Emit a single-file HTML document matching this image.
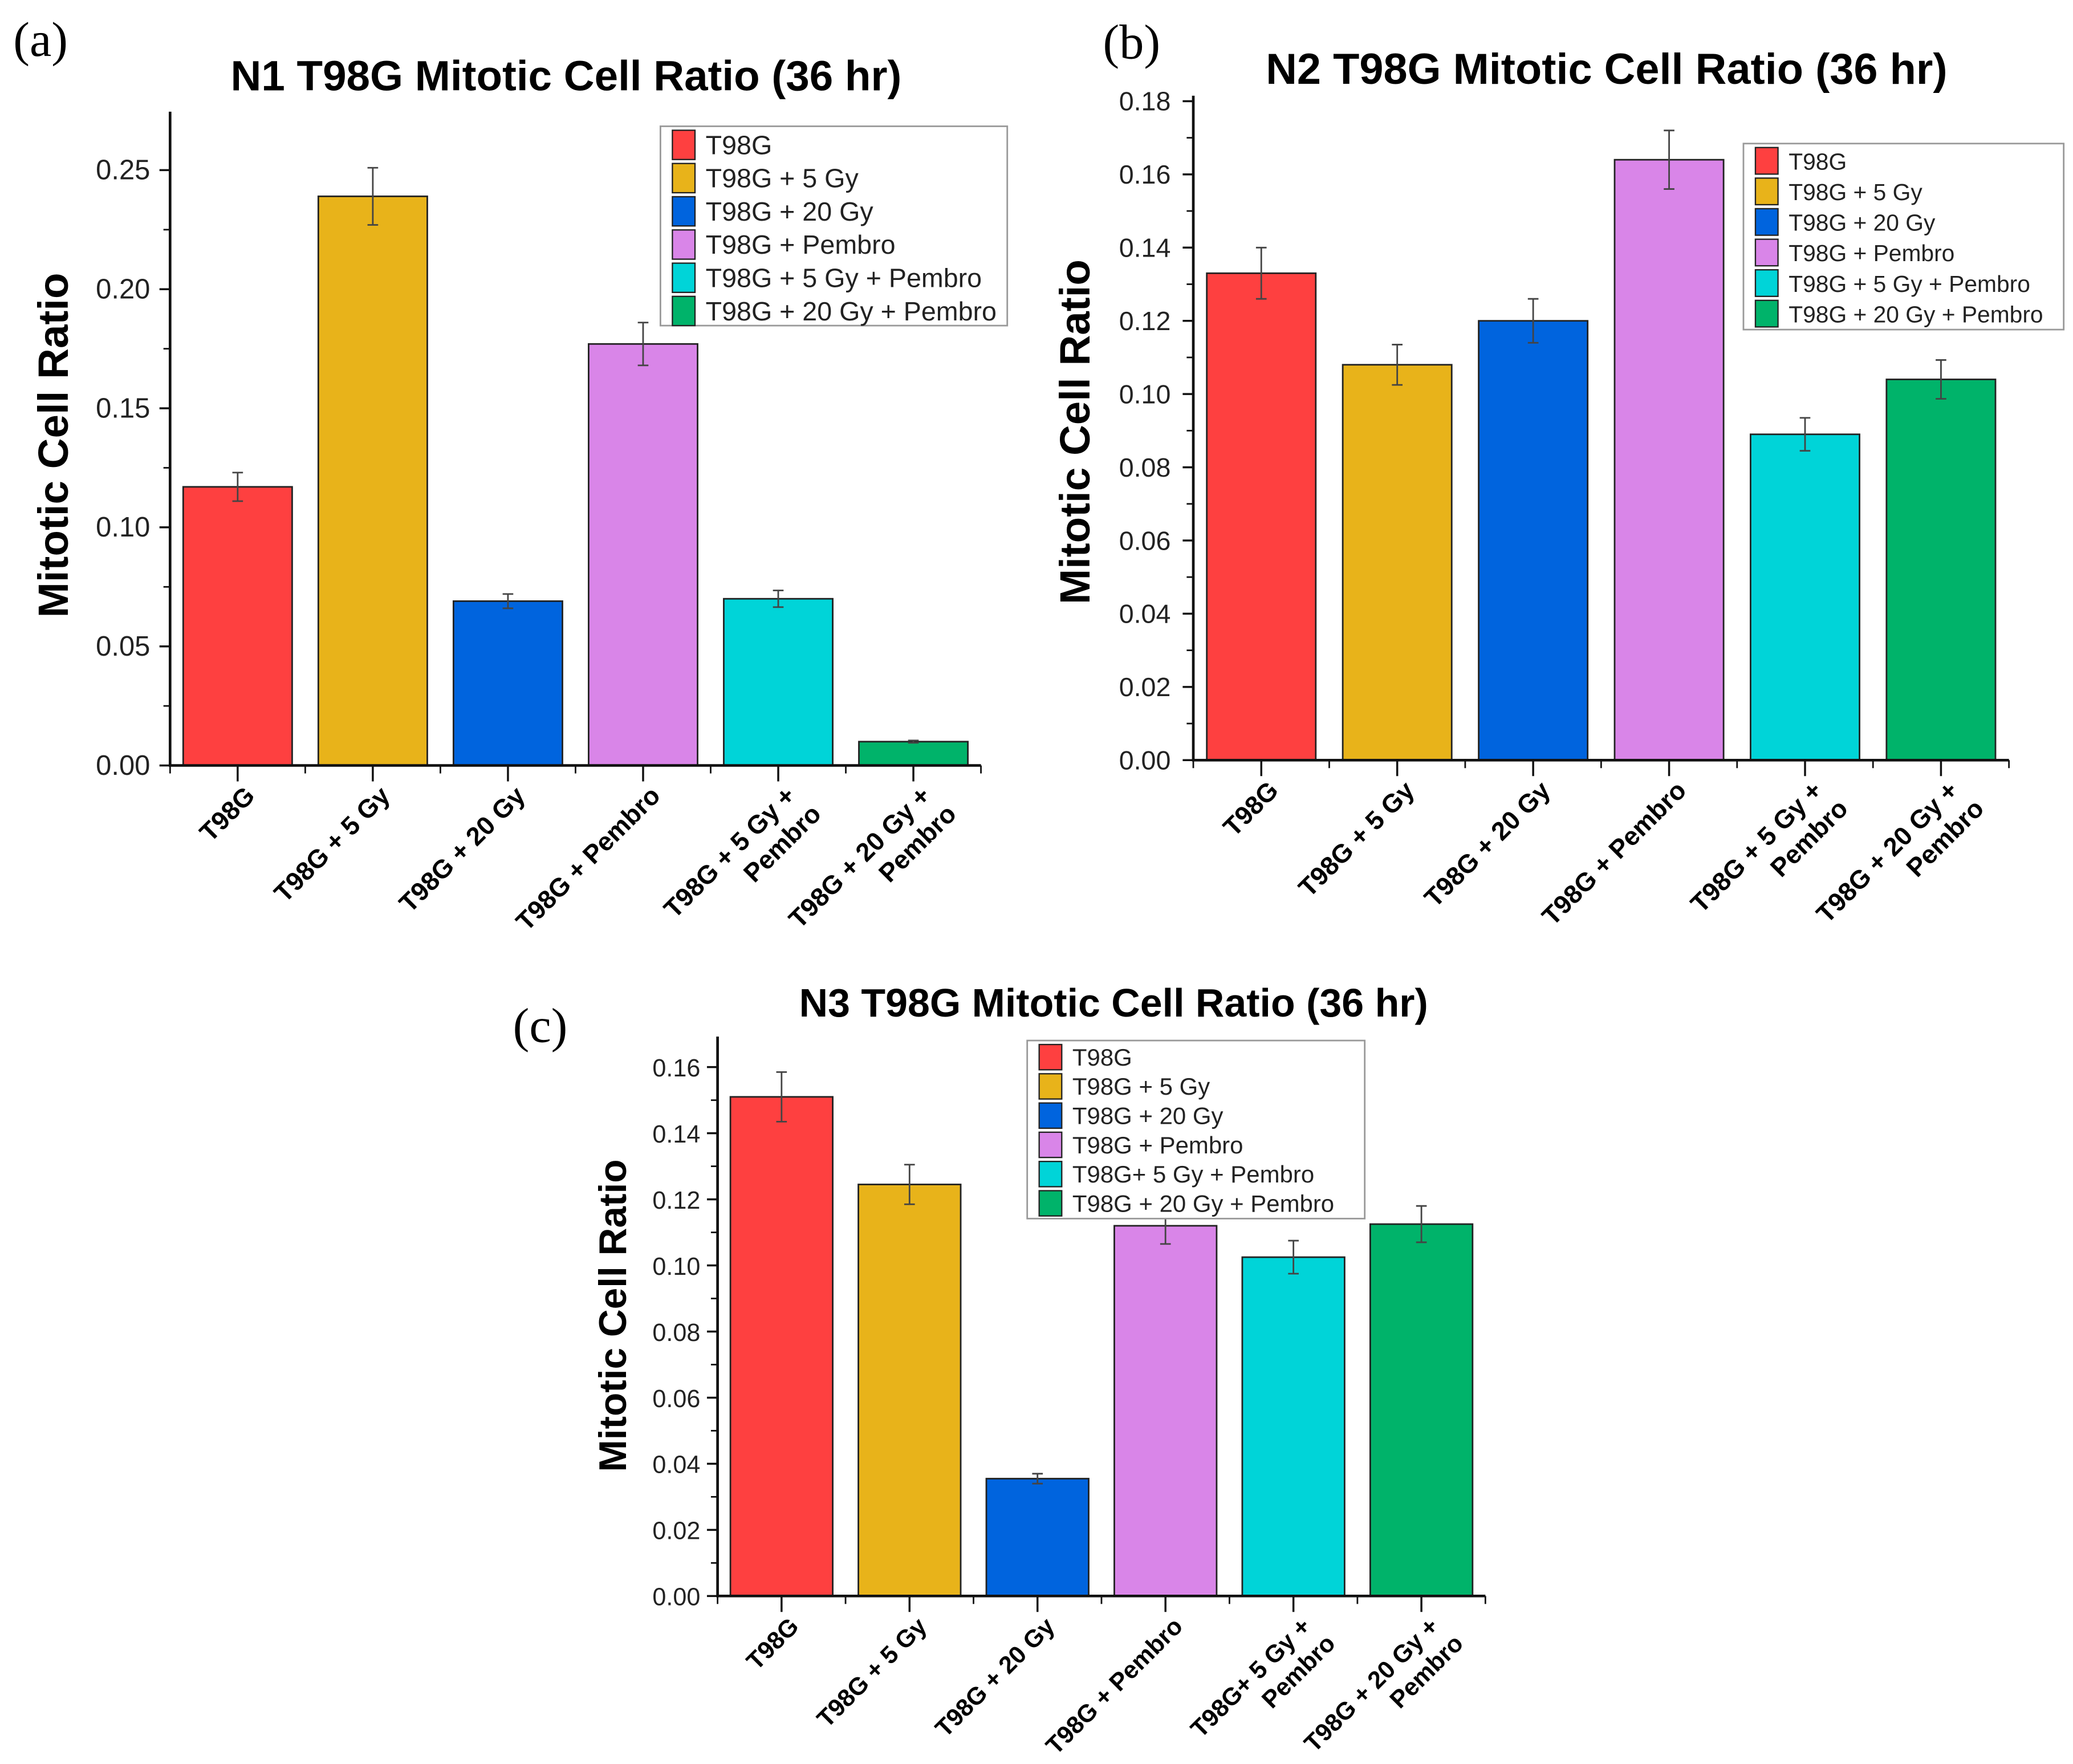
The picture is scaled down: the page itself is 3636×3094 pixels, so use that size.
<!DOCTYPE html>
<html><head><meta charset="utf-8"><style>
html,body{margin:0;padding:0;background:#fff}
svg{display:block}
text{font-family:"Liberation Sans",Arial,sans-serif}
</style></head><body>
<svg id="fig" xmlns="http://www.w3.org/2000/svg" width="3636" height="3094" viewBox="0 0 1560 1327.4">
<rect width="1560" height="1327.4" fill="#fff"/>
<text x="10" y="42" font-size="37" style="font-family:'Liberation Serif',serif">(a)</text>
<text x="830" y="44" font-size="37" style="font-family:'Liberation Serif',serif">(b)</text>
<text x="386" y="784" font-size="37" style="font-family:'Liberation Serif',serif">(c)</text>
</svg>
<script>
const colors=["#fe4040","#e8b31a","#0064de","#d985e8","#00d4d8","#00b36a"];
const catsA=["T98G","T98G + 5 Gy","T98G + 20 Gy","T98G + Pembro","T98G + 5 Gy +|Pembro","T98G + 20 Gy +|Pembro"];
const catsC=["T98G","T98G + 5 Gy","T98G + 20 Gy","T98G + Pembro","T98G+ 5 Gy +|Pembro","T98G + 20 Gy +|Pembro"];
const legendAB=["T98G","T98G + 5 Gy","T98G + 20 Gy","T98G + Pembro","T98G + 5 Gy + Pembro","T98G + 20 Gy + Pembro"];
const legendC=["T98G","T98G + 5 Gy","T98G + 20 Gy","T98G + Pembro","T98G+ 5 Gy + Pembro","T98G + 20 Gy + Pembro"];
const valsA=[0.117,0.239,0.069,0.177,0.070,0.010];
const errA=[0.006,0.012,0.003,0.009,0.0035,0.0005];
const ticksA=["0.00","0.05","0.10","0.15","0.20","0.25"];
const valsB=[0.133,0.108,0.120,0.164,0.089,0.104];
const errB=[0.007,0.0055,0.006,0.008,0.0045,0.0053];
const ticksB=["0.00","0.02","0.04","0.06","0.08","0.10","0.12","0.14","0.16","0.18"];
const valsC=[0.151,0.1245,0.0355,0.112,0.1025,0.1125];
const errC=[0.0075,0.006,0.0015,0.0055,0.005,0.0055];
const ticksC=["0.00","0.02","0.04","0.06","0.08","0.10","0.12","0.14","0.16"];

const svg=document.getElementById('fig');
const NS="http://www.w3.org/2000/svg";
function el(tag,attrs,parent){const e=document.createElementNS(NS,tag);for(const k in attrs)e.setAttribute(k,attrs[k]);(parent||svg).appendChild(e);return e;}

function panel(p){
  const g=el('g',{});
  
  
  const yS=v=>p.y0-(v/p.tickStep)*p.tickPx;
  const xS=i=>p.x0+p.pad+p.sp/2+i*p.sp;
  const n=p.vals.length;
  const xEnd=p.x0+p.pad*2+n*p.sp;
  const t=el('text',{x:p.tx,y:p.ty,'font-size':p.tfs,'font-weight':'bold','text-anchor':'middle'},g);t.textContent=p.title;
  
  
  const yl=el('text',{x:0,y:0,'font-size':p.yfs,'font-weight':'bold','text-anchor':'middle',transform:`translate(${p.ylx},${p.yly}) rotate(-90)`},g);yl.textContent="Mitotic Cell Ratio";
  
  
  p.vals.forEach((v,i)=>{
    const cx=xS(i);
    const r=el('rect',{x:cx-p.bw/2,y:yS(v),width:p.bw,height:p.y0-yS(v),fill:colors[i],stroke:'#222','stroke-width':1.2},g);
    
    
  });
  p.vals.forEach((v,i)=>{
    const cx=xS(i),e=p.err[i];
    const eb=el('path',{d:`M${cx} ${yS(v+e)}V${yS(v-e)}M${cx-4} ${yS(v+e)}H${cx+4}M${cx-4} ${yS(v-e)}H${cx+4}`,stroke:'#444','stroke-width':1.2,fill:'none'},g);
    
    
  });
  const ax=el('path',{d:`M${p.x0} ${p.ytop}V${p.y0}H${xEnd}`,stroke:'#111','stroke-width':2,fill:'none'},g);
  
  
  p.ticks.forEach((lab,k)=>{
    const y=yS(k*p.tickStep);
    el('line',{x1:p.x0-8,x2:p.x0,y1:y,y2:y,stroke:'#111','stroke-width':1.5},g);
    const m=y-p.tickPx/2;
    if(m>p.ytop)el('line',{x1:p.x0-5,x2:p.x0,y1:m,y2:m,stroke:'#111','stroke-width':1.2},g);
    const tl=el('text',{x:p.x0-p.tgap,y:y+7,'font-size':p.tkfs,'text-anchor':'end',fill:'#222'},g);tl.textContent=lab;
    
    
  });
  for(let i=0;i<=n;i++){const x=p.x0+p.pad+i*p.sp;el('line',{x1:x,x2:x,y1:p.y0,y2:p.y0+6,stroke:'#111','stroke-width':1.2},g);}
  p.cats.forEach((c,i)=>{
    const cx=xS(i);
    el('line',{x1:cx,x2:cx,y1:p.y0,y2:p.y0+12,stroke:'#111','stroke-width':1.5},g);
    const lines=c.split('|');
    const tx=el('text',{'font-size':p.xfs,'font-weight':'bold','text-anchor':'end',transform:`translate(${cx+14},${p.y0+24}) rotate(-45)`},g);
    
    
    lines.forEach((ln,j)=>{const ts=el('tspan',{x:j?4:0,dy:j?'1.2em':0},tx);ts.textContent=ln;});
  });
  const lg=el('g',{},g);
  
  
  el('rect',{x:p.lx,y:p.ly,width:p.lw,height:p.lh,fill:'#fff',stroke:'#999','stroke-width':1.2},lg);
  p.legend.forEach((s,i)=>{
    const y=p.ly+3+i*p.lsp;
    el('rect',{x:p.lx+9,y:y,width:17,height:p.lsp-3,fill:colors[i],stroke:'#222','stroke-width':1},lg);
    const lt=el('text',{x:p.lx+34,y:y+p.lsp*0.72,'font-size':p.lfs,fill:'#222'},lg);lt.textContent=s;
    
    
  });
}
panel({id:'a',title:"N1 T98G Mitotic Cell Ratio (36 hr)",tx:426,ty:68,tfs:32,ylx:51,yly:335,yfs:32,
  x0:128,y0:576,ytop:84,tickStep:0.05,tickPx:89.6,pad:0,sp:101.7,bw:82,tgap:15,
  vals:valsA,err:errA,ticks:ticksA,cats:catsA,xfs:19.5,tkfs:21,
  legend:legendAB,lx:497,ly:95,lw:261,lh:150,lsp:25,lfs:20});
panel({id:'b',title:"N2 T98G Mitotic Cell Ratio (36 hr)",tx:1209,ty:63,tfs:32.5,ylx:820,yly:325,yfs:32,
  x0:898,y0:572,ytop:72,tickStep:0.02,tickPx:55.1,pad:0,sp:102.3,bw:82,tgap:17,
  vals:valsB,err:errB,ticks:ticksB,cats:catsA,xfs:19.5,tkfs:20,
  legend:legendAB,lx:1312,ly:108,lw:241,lh:140,lsp:23,lfs:17.5});
panel({id:'c',title:"N3 T98G Mitotic Cell Ratio (36 hr)",tx:838,ty:765,tfs:30,ylx:471,yly:990,yfs:29,
  x0:540,y0:1201,ytop:780,tickStep:0.02,tickPx:49.75,pad:0,sp:96.3,bw:77,tgap:13,
  vals:valsC,err:errC,ticks:ticksC,cats:catsC,xfs:18.5,tkfs:18.5,
  legend:legendC,lx:773,ly:783,lw:254,lh:134,lsp:22,lfs:18});
</script>
</body></html>
